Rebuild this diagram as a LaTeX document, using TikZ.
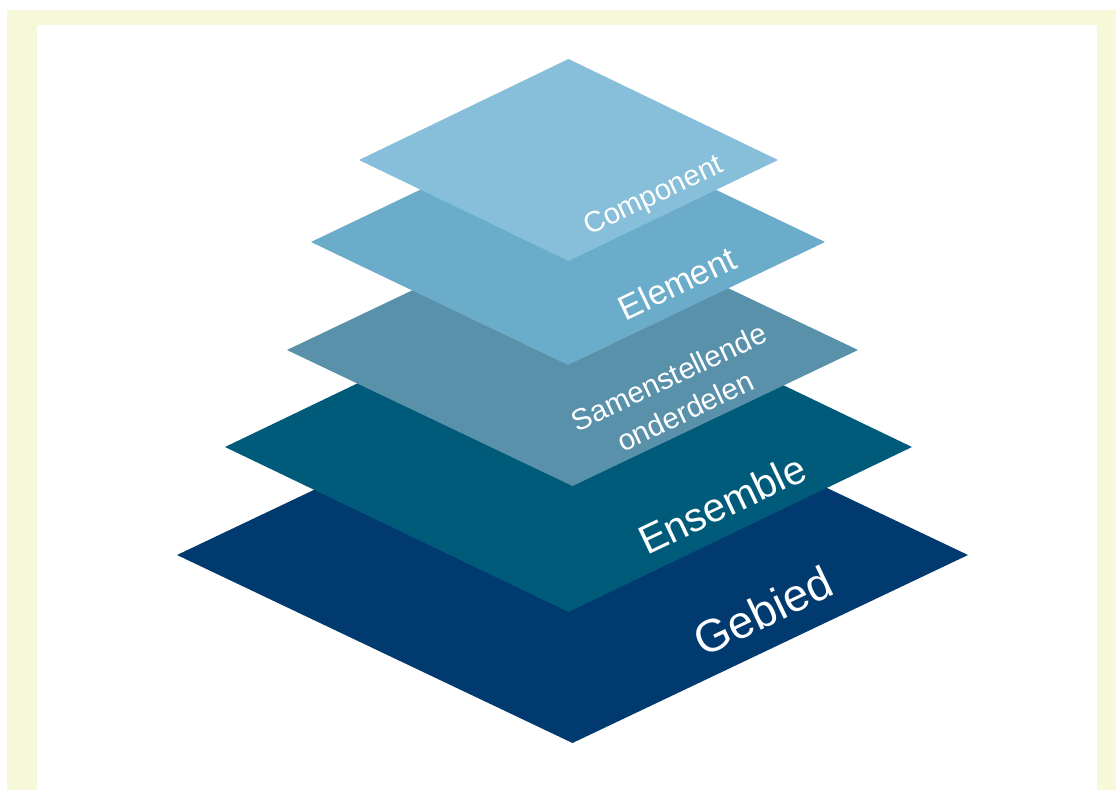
\documentclass[tikz,border=0pt]{standalone}
\usepackage{fontspec}
\setmainfont{Liberation Sans}
\definecolor{framegeel}{RGB}{247,247,218}
\definecolor{gebiedblauw}{RGB}{0,58,110}
\definecolor{ensembleblauw}{RGB}{0,90,122}
\definecolor{samenblauw}{RGB}{89,145,170}
\definecolor{elementblauw}{RGB}{106,172,201}
\definecolor{componentblauw}{RGB}{135,190,217}
\tikzset{laagtekst/.style={text=white, rotate=25.5, inner sep=0pt, align=center}}

\begin{document}
\begin{tikzpicture}[x=0.02cm,y=-0.02cm]
\useasboundingbox (0,0) rectangle (1116,790);
%frame
\fill[framegeel] (7,10) rectangle (1116,790);
\fill[white] (37,25) rectangle (1097,790);
%layers, bottom first
\fill[gebiedblauw] (177,555) -- (572.5,367) -- (968,555) -- (572.5,743) -- cycle;
\node[laagtekst, font=\fontsize{26}{30}\selectfont] (gebied) at (763,611) {Gebied};
\fill[ensembleblauw] (225,447) -- (568.5,282) -- (912,447) -- (568.5,612) -- cycle;
\node[laagtekst, font=\fontsize{23}{27}\selectfont] (ensemble) at (722,504) {Ensemble};
\fill[samenblauw] (287,350) -- (572.5,214) -- (858,350) -- (572.5,486) -- cycle;
\node[laagtekst, font=\fontsize{16.8}{21.5}\selectfont] (samen) at (677,394) {Samenstellende\\onderdelen};
\fill[elementblauw] (311,242) -- (568,119) -- (825,242) -- (568,365) -- cycle;
\node[laagtekst, font=\fontsize{19.5}{23}\selectfont] (element) at (677,283) {Element};
\fill[componentblauw] (359,160) -- (568.5,59) -- (778,160) -- (568.5,261) -- cycle;
\node[laagtekst, font=\fontsize{16.6}{20}\selectfont] (component) at (654,197) {Component};
\end{tikzpicture}
\end{document}
